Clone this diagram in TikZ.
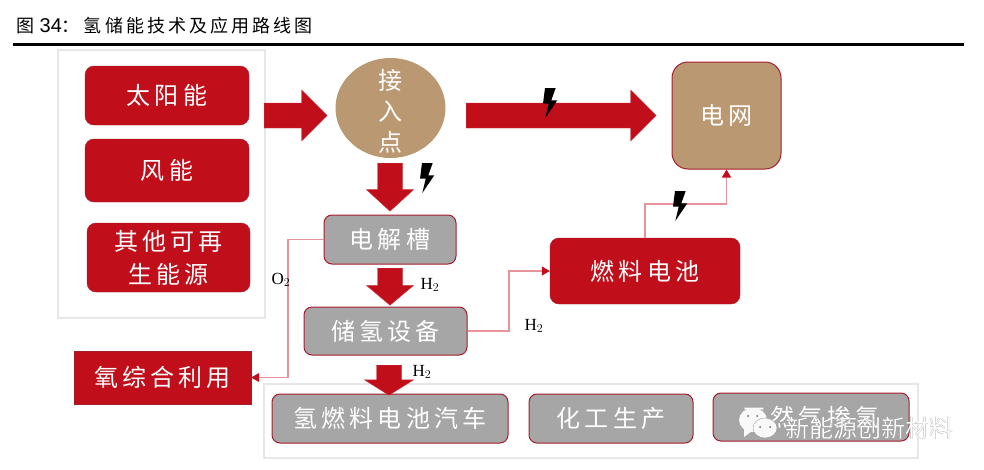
\documentclass[tikz,border=0pt]{standalone}
\usepackage{fontspec}
\setmainfont{Liberation Serif}
\newfontfamily\cjk[LetterSpace=17]{Noto Sans CJK SC}
\newfontfamily\cjkplain{Noto Sans CJK SC}
\newfontfamily\arial{Liberation Sans}
\usetikzlibrary{arrows.meta,
                shapes.arrows, shapes.geometric
            }
\definecolor{boxred}{HTML}{C00E1A}
\definecolor{boxedge}{HTML}{A51C2C}
\definecolor{boxgray}{HTML}{A6A6A6}
\definecolor{boxtan}{HTML}{B99872}
\definecolor{framegray}{HTML}{E7E7E7}
\definecolor{linkpink}{HTML}{E8929A}
\tikzset{
    base/.style={inner sep=0, align=center, text=white, font=\cjk\fontsize{24}{33}\selectfont},
    redbox/.style={base, draw=boxedge, fill=boxred, rounded corners=9pt},
    graybox/.style={base, draw=boxedge, line width=1pt, fill=boxgray, rounded corners=8pt},
    frame/.style={draw=framegray, line width=1.2pt},
    blockarrow/.style={single arrow, fill=boxred, draw=boxred!85!white, line width=.4pt, anchor=tail,
        inner xsep=0, inner ysep=12.3pt, single arrow head extend=#1},
    blockarrow/.default=13pt,
    link/.style={draw=linkpink, line width=1.1pt},
    linktip/.style={link, -{Triangle[length=8pt, width=9pt, color=boxred]}},
    gas/.style={inner sep=0, font=\fontsize{17}{17}\selectfont},
    pics/bolt/.style={code={
        \fill[black] (2,0) -- (12.7,0) -- (8.3,12.3) -- (14.3,12.3) -- (2.3,30) -- (5.7,15.7) -- (0,15.7) -- cycle;
    }}
}
\begin{document}
\begin{tikzpicture}[x=1pt, y=-1pt]
    \useasboundingbox (0,0) rectangle (984,469);
    % title
    \node[anchor=west, inner sep=0, font=\fontsize{18}{18}\selectfont] (title) at (16,26)
        {{\cjk 图}\hspace{5.5pt}{\arial\fontsize{20}{20}\selectfont 34}{\cjk ：}\hspace{4pt}{\cjk 氢储能技术及应用路线图}};
    \draw[line width=2.2pt] (13,44.5) -- (964,44.5);

    % frames
    \draw[frame] (58,50) rectangle (265,318);
    \draw[frame] (264,384) rectangle (918,458);

    % sources
    \node[redbox, minimum width=164pt, minimum height=59pt] (solar) at (167,95.5) {太阳能};
    \node[redbox, minimum width=164pt, minimum height=63pt] (wind) at (167,170.5) {风能};
    \node[redbox, minimum width=163pt, minimum height=69pt] (other) at (168.5,257.5) {其他可再\\生能源};

    % main nodes
    \node[ellipse, fill=boxtan, minimum width=110pt, minimum height=100pt, inner sep=0] (point) at (390.5,108) {};
    \node[base, font=\cjkplain\fontsize{24}{31}\selectfont] (pointtext) at (390.5,111.5) {接\\入\\点};
    \node[base, draw=boxedge, line width=1pt, fill=boxtan, rounded corners=16pt,
          minimum width=109pt, minimum height=107pt] (grid) at (726.5,115.5) {电网};
    \node[redbox, minimum width=190pt, minimum height=66pt] (fuel) at (645,271) {燃料电池};
    \node[graybox, minimum width=132pt, minimum height=49pt] (cell) at (390,239.5) {电解槽};
    \node[graybox, minimum width=163pt, minimum height=48pt] (tank) at (385.5,331) {储氢设备};
    \node[base, draw=boxedge, fill=boxred, minimum width=177pt, minimum height=53pt] (oxygen) at (162.5,377.5) {氧综合利用};

    % uses
    \node[graybox, minimum width=236pt, minimum height=49pt] (car) at (390,418.5) {氢燃料电池汽车};
    \node[graybox, minimum width=164pt, minimum height=49pt] (chem) at (611,418.5) {化工生产};
    \node[graybox, minimum width=196pt, minimum height=48pt] (gasmix) at (811,417) {天然气掺氢};

    % block arrows
    \node[blockarrow, minimum height=63pt] (arrowa) at (264,115.5) {};
    \node[blockarrow, minimum height=190pt] (arrowb) at (466,115.5) {};
    \node[blockarrow=11pt, rotate=-90, single arrow tip angle=95, minimum height=48pt] (arrowc) at (390,163) {};
    \node[blockarrow=11pt, rotate=-90, single arrow tip angle=100, minimum height=37pt] (arrowd) at (390,268) {};
    \node[blockarrow=12pt, rotate=-90, single arrow tip angle=116, minimum height=30pt] (arrowe) at (389,365) {};

    % connectors
    \coordinate (o2bend) at (288,377.5);
    \coordinate (h2bend) at (509,331);
    \coordinate (powerbend) at (680,204);
    \draw[linktip] (cell.west) -| (o2bend) -- (oxygen.east);
    \draw[linktip] (tank.east) -- (h2bend) |- (fuel.west);
    \draw[linktip] (fuel.north) |- (powerbend) -| (grid.south);

    % labels
    \node[gas] (o2) at (281,280) {O$_2$};
    \node[gas] (h2a) at (430,285) {H$_2$};
    \node[gas] (h2b) at (422,372) {H$_2$};
    \node[gas] (h2c) at (534,326) {H$_2$};

    % bolts
    \pic at (543,88) {bolt};
    \pic at (420,163) {bolt};
    \pic at (673,191) {bolt};

    % watermark
    \fill[white!95!gray] (753,420) ellipse (14pt and 12pt);
    \fill[white!95!gray] (744,428) -- (744,437) -- (752,431) -- cycle;
    \fill[white!95!gray, draw=black!45, line width=.3pt] (765,428) ellipse (12pt and 10pt);
    \fill[black!60] (760,427) circle (1pt) (770,427) circle (1pt) (748,416) circle (1pt) (757,416) circle (1pt);
    \node[anchor=west, inner sep=0, text=black!70, font=\cjkplain\fontsize{24}{24}\selectfont] (markshadow) at (785.7,428.7) {新能源创新材料};
    \node[anchor=west, inner sep=0, text=white, font=\cjkplain\fontsize{24}{24}\selectfont] (mark) at (785,428) {新能源创新材料};
\end{tikzpicture}
\end{document}
